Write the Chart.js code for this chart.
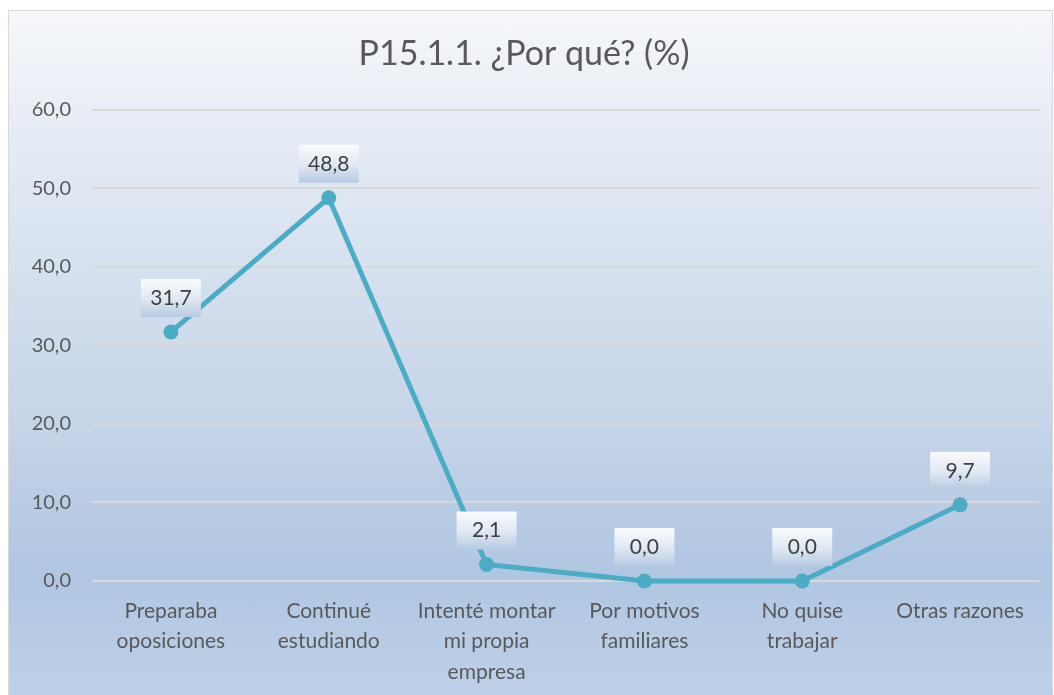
<!DOCTYPE html>
<html>
<head>
<meta charset="utf-8">
<script src="https://cdn.jsdelivr.net/npm/chart.js@4.4.1/dist/chart.umd.min.js"></script>
<style>
  html, body { margin: 0; padding: 0; background: #fff; overflow: hidden; }
  #box {
    position: absolute; left: 8px; top: 10px; width: 1045px; height: 690px;
    border: 1px solid #d9d9d9; box-sizing: border-box;
    background: linear-gradient(to bottom, #f5f7fb 0%, #dde6f1 28%, #c8d6e9 57%, #b0c6e1 82%, #bfd1e8 100%);
  }
  #wrap { position: absolute; left: 0; top: 0; width: 1043px; height: 688px; }
</style>
</head>
<body>
<div id="box"><div id="wrap"><canvas id="mycanvas"></canvas></div></div>
<script>
var categories = [
  ["Preparaba", "oposiciones"],
  ["Continué", "estudiando"],
  ["Intenté montar", "mi propia", "empresa"],
  ["Por motivos", "familiares"],
  ["No quise", "trabajar"],
  ["Otras razones"]
];
var percent_values = [31.7, 48.8, 2.1, 0.0, 0.0, 9.7];
var y_ticks = [0, 10, 20, 30, 40, 50, 60];

function fmt(v) {
  return v.toFixed(1).replace(".", ",");
}

// boxed value labels above the points
var valueLabels = {
  id: "valueLabels",
  afterDatasetsDraw: function(chart) {
    var ctx = chart.ctx;
    var meta = chart.getDatasetMeta(0);
    ctx.save();
    ctx.font = "21px Lato, 'Open Sans', sans-serif";
    ctx.textAlign = "center";
    ctx.textBaseline = "middle";
    meta.data.forEach(function(pt, i) {
      var cy = pt.y - 34;
      var w = 60, h = 38;
      var g = ctx.createLinearGradient(0, cy - h / 2, 0, cy + h / 2);
      g.addColorStop(0, "#f9fbfd");
      g.addColorStop(0.55, "#dfe7f2");
      g.addColorStop(1, "#b6cae3");
      ctx.fillStyle = g;
      ctx.fillRect(pt.x - w / 2, cy - h / 2, w, h);
      ctx.fillStyle = "#404040";
      ctx.fillText(fmt(percent_values[i]), pt.x, cy);
    });
    ctx.restore();
  }
};

var ctx = document.getElementById("mycanvas");

var LineGraph = new Chart(ctx, {
  type: "line",
  data: {
    labels: categories,
    datasets: [{
      label: "P15.1.1",
      data: percent_values,
      fill: false,
      clip: false,
      lineTension: 0,
      borderColor: "#4bacc6",
      backgroundColor: "#4bacc6",
      borderWidth: 5,
      pointRadius: 7.5,
      pointBorderWidth: 0,
      pointBackgroundColor: "#4bacc6"
    }]
  },
  plugins: [valueLabels],
  options: {
    responsive: true,
    maintainAspectRatio: false,
    animation: false,
    layout: { padding: { left: 0, right: 13, top: 0, bottom: 0 } },
    plugins: {
      legend: { display: false },
      tooltip: { enabled: false },
      title: {
        display: true,
        text: "P15.1.1. ¿Por qué? (%)",
        color: "#595959",
        font: { family: "Lato, 'Open Sans', sans-serif", size: 34, weight: "normal" },
        padding: { top: 23, bottom: 35 }
      }
    },
    scales: {
      x: {
        offset: true,
        grid: { display: false, drawTicks: false },
        border: { display: false },
        ticks: {
          autoSkip: false,
          maxRotation: 0,
          padding: 15,
          color: "#595959",
          font: { family: "Lato, 'Open Sans', sans-serif", size: 21, lineHeight: 1.45 }
        },
        afterFit: function(scale) { scale.height = 118; }
      },
      y: {
        min: 0,
        max: 60,
        afterBuildTicks: function(scale) {
          scale.ticks = y_ticks.map(function(v) { return { value: v }; });
        },
        grid: { color: "#d9d9d9", lineWidth: 2, drawTicks: false },
        border: { display: false },
        ticks: {
          padding: 21,
          color: "#595959",
          font: { family: "Lato, 'Open Sans', sans-serif", size: 20 },
          callback: function(v) { return fmt(v); }
        },
        afterFit: function(scale) { scale.width = 83; }
      }
    }
  }
});
</script>
</body>
</html>
